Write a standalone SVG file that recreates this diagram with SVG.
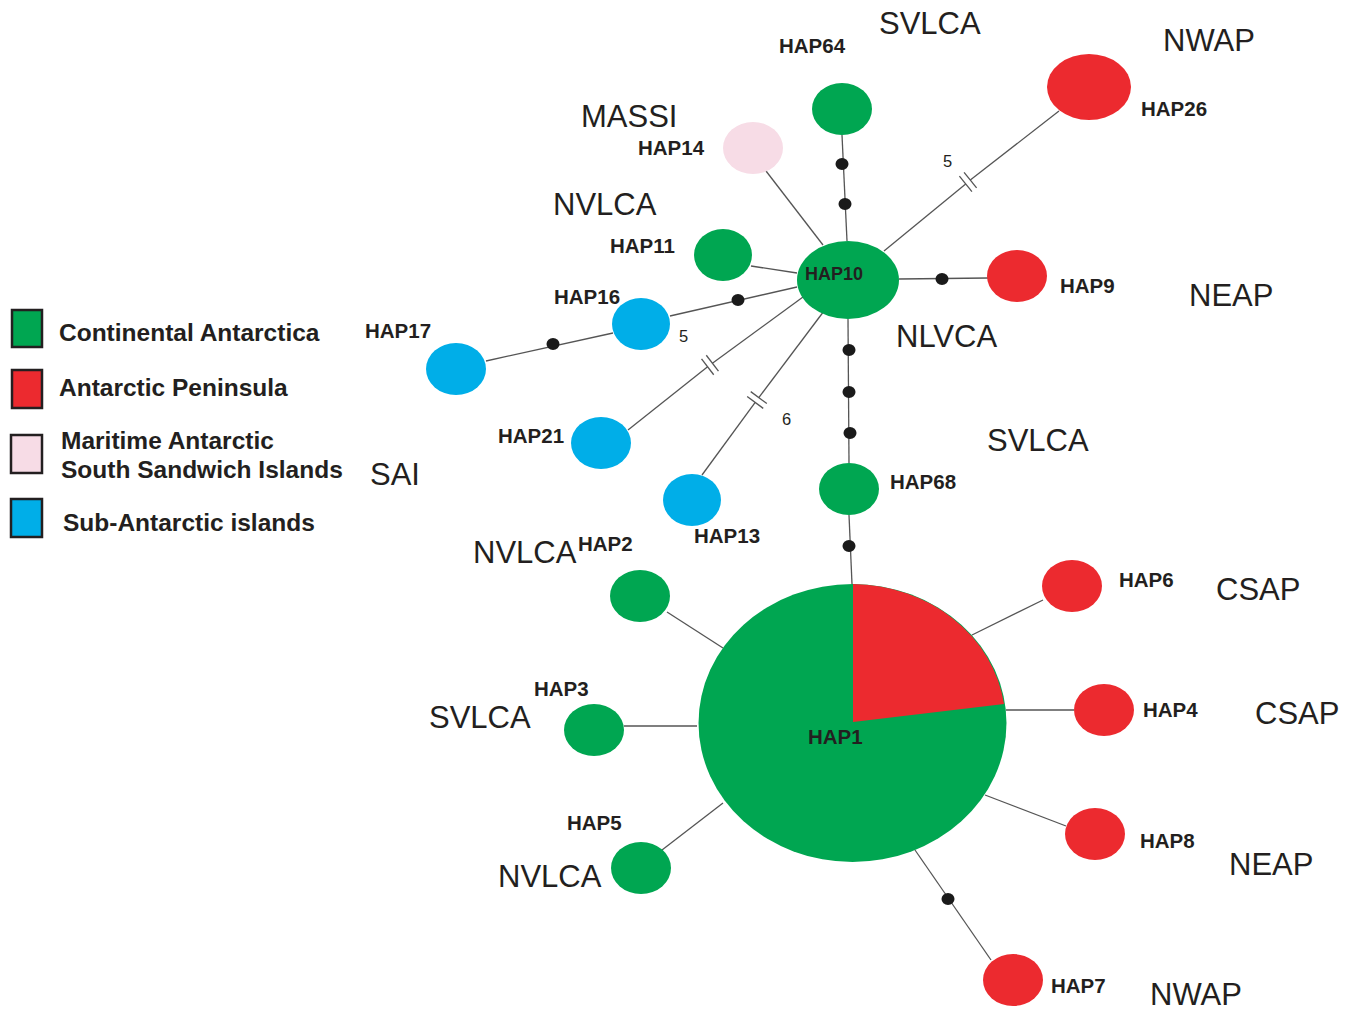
<svg xmlns="http://www.w3.org/2000/svg" width="1351" height="1013" viewBox="0 0 1351 1013">
<style>
.g{fill:#00a651}.r{fill:#ec2a2f}.p{fill:#f7dce6}.b{fill:#00aee8}
.ln{stroke:#555;stroke-width:1.3;fill:none}
.dot{fill:#1a1a1a}
.hap{font-family:"Liberation Sans",Arial,sans-serif;font-weight:bold;font-size:20.5px;fill:#231f20}
.reg{font-family:"Liberation Sans",Arial,sans-serif;font-size:31px;fill:#231f20}
.num{font-family:"Liberation Sans",Arial,sans-serif;font-size:16.5px;fill:#231f20}
.leg{font-family:"Liberation Sans",Arial,sans-serif;font-weight:bold;font-size:24.5px;fill:#231f20}
.sq{stroke:#231f20;stroke-width:2.5}
</style>
<rect width="1351" height="1013" fill="#fff"/>
<g id="connectors">
<line class="ln" x1="842" y1="135" x2="847" y2="241"/>
<line class="ln" x1="766" y1="171" x2="823" y2="245"/>
<line class="ln" x1="751" y1="266" x2="797" y2="273"/>
<line class="ln" x1="670" y1="316" x2="797" y2="287"/>
<line class="ln" x1="486" y1="361" x2="613" y2="333"/>
<line class="ln" x1="628" y1="430" x2="707.6" y2="366.8"/>
<line class="ln" x1="712.4" y1="363.2" x2="803" y2="297"/>
<line class="ln" x1="702" y1="475" x2="755.2" y2="402.4"/>
<line class="ln" x1="758.8" y1="397.6" x2="824" y2="311"/>
<line class="ln" x1="884" y1="251" x2="965.7" y2="183.9"/>
<line class="ln" x1="970.3" y1="180.1" x2="1059" y2="111"/>
<line class="ln" x1="899" y1="279" x2="988" y2="278"/>
<line class="ln" x1="848" y1="319" x2="849" y2="463"/>
<line class="ln" x1="849" y1="515" x2="852" y2="584"/>
<line class="ln" x1="667" y1="612" x2="723" y2="648"/>
<line class="ln" x1="624" y1="726" x2="697" y2="726"/>
<line class="ln" x1="662" y1="850" x2="723" y2="803"/>
<line class="ln" x1="1043" y1="600" x2="972" y2="635"/>
<line class="ln" x1="1074" y1="710" x2="1006" y2="710"/>
<line class="ln" x1="1066" y1="826" x2="985" y2="795"/>
<line class="ln" x1="915" y1="850" x2="991" y2="960"/>
<g transform="translate(968,182) rotate(-38.7)"><line class="ln" x1="-3" y1="-10" x2="-3" y2="10"/><line class="ln" x1="3" y1="-10" x2="3" y2="10"/></g>
<g transform="translate(710,365) rotate(-37.5)"><line class="ln" x1="-3" y1="-10" x2="-3" y2="10"/><line class="ln" x1="3" y1="-10" x2="3" y2="10"/></g>
<g transform="translate(757,400) rotate(-53.4)"><line class="ln" x1="-3" y1="-10" x2="-3" y2="10"/><line class="ln" x1="3" y1="-10" x2="3" y2="10"/></g>
<ellipse class="dot" cx="842" cy="164" rx="6.5" ry="6"/>
<ellipse class="dot" cx="845" cy="204" rx="6.5" ry="6"/>
<ellipse class="dot" cx="942" cy="279" rx="6.5" ry="6"/>
<ellipse class="dot" cx="738" cy="300" rx="6.5" ry="6"/>
<ellipse class="dot" cx="553" cy="344" rx="6.5" ry="6"/>
<ellipse class="dot" cx="849" cy="350" rx="6.5" ry="6"/>
<ellipse class="dot" cx="849" cy="392" rx="6.5" ry="6"/>
<ellipse class="dot" cx="850" cy="433" rx="6.5" ry="6"/>
<ellipse class="dot" cx="849" cy="546" rx="6.5" ry="6"/>
<ellipse class="dot" cx="948" cy="899" rx="6.5" ry="6"/>
<text class="num" x="943" y="167">5</text>
<text class="num" x="679" y="342">5</text>
<text class="num" x="782" y="425">6</text>
</g>
<g id="HAP10"><ellipse class="g" cx="848" cy="280" rx="51" ry="39"/><text class="hap" x="805" y="280" style="font-size:18px">HAP10</text></g>
<g id="HAP64"><ellipse class="g" cx="842" cy="109" rx="30" ry="26"/><text class="hap" x="779" y="53">HAP64</text></g>
<g id="HAP14"><ellipse class="p" cx="753" cy="148" rx="30" ry="26"/><text class="hap" x="638" y="155">HAP14</text></g>
<g id="HAP11"><ellipse class="g" cx="723" cy="255" rx="29" ry="26"/><text class="hap" x="610" y="253">HAP11</text></g>
<g id="HAP26"><ellipse class="r" cx="1089" cy="87" rx="42" ry="33"/><text class="hap" x="1141" y="116">HAP26</text></g>
<g id="HAP9"><ellipse class="r" cx="1017" cy="276" rx="30" ry="26"/><text class="hap" x="1060" y="293">HAP9</text></g>
<g id="HAP16"><ellipse class="b" cx="641" cy="324" rx="29" ry="26"/><text class="hap" x="554" y="304">HAP16</text></g>
<g id="HAP17"><ellipse class="b" cx="456" cy="369" rx="30" ry="26"/><text class="hap" x="365" y="338">HAP17</text></g>
<g id="HAP21"><ellipse class="b" cx="601" cy="443" rx="30" ry="26"/><text class="hap" x="498" y="443">HAP21</text></g>
<g id="HAP13"><ellipse class="b" cx="692" cy="500" rx="29" ry="26"/><text class="hap" x="694" y="543">HAP13</text></g>
<g id="HAP68"><ellipse class="g" cx="849" cy="489" rx="30" ry="26"/><text class="hap" x="890" y="489">HAP68</text></g>
<g id="HAP1">
<ellipse class="g" cx="852.5" cy="723" rx="154" ry="139"/>
<path class="r" d="M853,722 L853,584 A154,139 0 0 1 1004,704 Z"/>
<text class="hap" x="808" y="744">HAP1</text>
</g>
<g id="HAP2"><ellipse class="g" cx="640" cy="596" rx="30" ry="26"/><text class="hap" x="578" y="551">HAP2</text></g>
<g id="HAP3"><ellipse class="g" cx="594" cy="730" rx="30" ry="26"/><text class="hap" x="534" y="696">HAP3</text></g>
<g id="HAP5"><ellipse class="g" cx="641" cy="868" rx="30" ry="26"/><text class="hap" x="567" y="830">HAP5</text></g>
<g id="HAP6"><ellipse class="r" cx="1072" cy="586" rx="30" ry="26"/><text class="hap" x="1119" y="587">HAP6</text></g>
<g id="HAP4"><ellipse class="r" cx="1104" cy="710" rx="30" ry="26"/><text class="hap" x="1143" y="717">HAP4</text></g>
<g id="HAP8"><ellipse class="r" cx="1095" cy="834" rx="30" ry="26"/><text class="hap" x="1140" y="848">HAP8</text></g>
<g id="HAP7"><ellipse class="r" cx="1013" cy="980" rx="30" ry="26"/><text class="hap" x="1051" y="993">HAP7</text></g>
<g id="regions">
<text class="reg" x="879" y="34">SVLCA</text>
<text class="reg" x="1163" y="51">NWAP</text>
<text class="reg" x="581" y="127">MASSI</text>
<text class="reg" x="553" y="215">NVLCA</text>
<text class="reg" x="1189" y="306">NEAP</text>
<text class="reg" x="896" y="347">NLVCA</text>
<text class="reg" x="987" y="451">SVLCA</text>
<text class="reg" x="370" y="485">SAI</text>
<text class="reg" x="473" y="563">NVLCA</text>
<text class="reg" x="1216" y="600">CSAP</text>
<text class="reg" x="429" y="728">SVLCA</text>
<text class="reg" x="1255" y="724">CSAP</text>
<text class="reg" x="498" y="887">NVLCA</text>
<text class="reg" x="1229" y="875">NEAP</text>
<text class="reg" x="1150" y="1005">NWAP</text>
</g>
<g id="legend">
<rect class="sq g" x="12" y="310" width="30" height="37"/>
<rect class="sq r" x="12" y="370" width="30" height="38"/>
<rect class="sq p" x="11" y="435" width="31" height="38"/>
<rect class="sq b" x="11" y="499" width="31" height="38"/>
<text class="leg" x="59" y="341">Continental Antarctica</text>
<text class="leg" x="59" y="396">Antarctic Peninsula</text>
<text class="leg" x="61" y="449">Maritime Antarctic</text>
<text class="leg" x="61" y="478">South Sandwich Islands</text>
<text class="leg" x="63" y="531">Sub-Antarctic islands</text>
</g>
</svg>
